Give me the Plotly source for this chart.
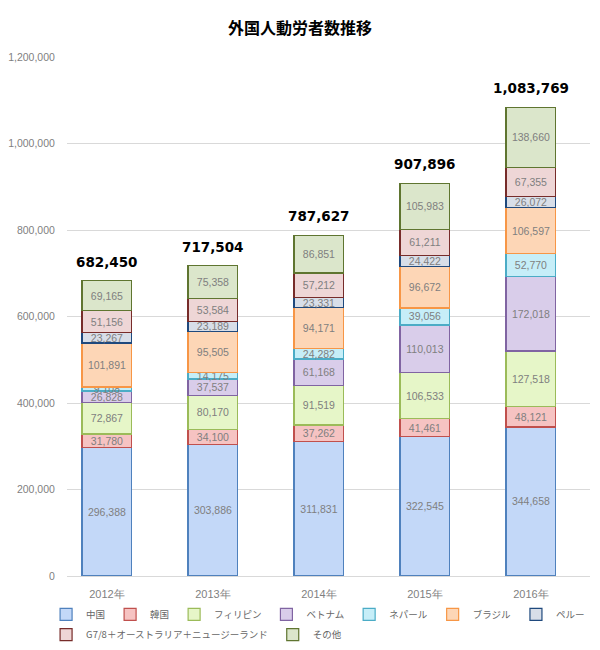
import plotly.graph_objects as go

years = ["2012年", "2013年", "2014年", "2015年", "2016年"]

china = [296388, 303886, 311831, 322545, 344658]
korea = [31780, 34100, 37262, 41461, 48121]
philippines = [72867, 80170, 91519, 106533, 127518]
vietnam = [26828, 37537, 61168, 110013, 172018]
nepal = [9108, 14175, 24282, 39056, 52770]
brazil = [101891, 95505, 94171, 96672, 106597]
peru = [23267, 23189, 23331, 24422, 26072]
g78 = [51156, 53584, 57212, 61211, 67355]
others = [69165, 75358, 86851, 105983, 138660]

# name, values, fill, border, legend row
series = [
    ("中国", china, "#c3d8f8", "#4f81bd", "legend"),
    ("韓国", korea, "#f6c3c2", "#c0504d", "legend"),
    ("フィリピン", philippines, "#e6f6c8", "#9bbb59", "legend"),
    ("ベトナム", vietnam, "#d9cdea", "#8064a2", "legend"),
    ("ネパール", nepal, "#c6eef8", "#4bacc6", "legend"),
    ("ブラジル", brazil, "#fdd6b6", "#f79646", "legend"),
    ("ペルー", peru, "#d8dee8", "#1f497d", "legend"),
    ("G7/8＋オーストラリア＋ニュージーランド", g78, "#eed6d6", "#772c2a", "legend2"),
    ("その他", others, "#dbe6cb", "#5f7530", "legend2"),
]

totals = [sum(v) for v in zip(*[s[1] for s in series])]

fig = go.Figure()
for name, vals, fill, line, leg in series:
    fig.add_trace(go.Bar(
        x=years, y=vals, name=name, legend=leg,
        marker=dict(color=fill, line=dict(color=line, width=1.2)),
        text=[f"{v:,}" for v in vals],
        textposition="inside",
        insidetextanchor="middle",
        textangle=0,
        constraintext="none",
        textfont=dict(color="#7f7f7f", size=10.5, family="Liberation Sans"),
        width=0.47,
        hoverinfo="skip",
    ))

for yr, t in zip(years, totals):
    fig.add_annotation(
        x=yr, y=t, text=f"<b>{t:,}</b>",
        showarrow=False, yanchor="bottom", yshift=9,
        font=dict(color="#000000", size=13.5, family="DejaVu Sans"),
    )

legend_style = dict(
    orientation="h", xanchor="left", yanchor="top",
    traceorder="normal",
    font=dict(size=9.5, color="#666666", family="Noto Sans CJK JP"),
    itemwidth=30, bgcolor="rgba(0,0,0,0)",
)

# page body has an 8px margin, so the figure is 592x642
fig.update_layout(
    width=592, height=642,
    barmode="stack",
    paper_bgcolor="white",
    plot_bgcolor="white",
    margin=dict(l=59, r=10, t=49, b=74, autoexpand=False),
    title=dict(
        text="<b>外国人動労者数推移</b>",
        x=292 / 592, xanchor="center", xref="container",
        y=1 - 20 / 642, yanchor="middle", yref="container",
        font=dict(size=16, color="#000000", family="Noto Sans CJK JP"),
    ),
    font=dict(family="Liberation Sans", color="#7f7f7f", size=11),
    xaxis=dict(
        range=[-0.377, 4.557],
        showline=True, linecolor="#d9d9d9",
        ticks="outside", ticklen=8, tickcolor="rgba(0,0,0,0)",
        showgrid=False, automargin=False,
        tickfont=dict(size=11, color="#7f7f7f", family="Liberation Sans"),
    ),
    yaxis=dict(
        range=[0, 1200000], dtick=200000,
        tickformat=",", showgrid=True, gridcolor="#d9d9d9",
        zeroline=False, ticks="outside", ticklen=9, tickcolor="rgba(0,0,0,0)",
        automargin=False,
        tickfont=dict(size=10.5, color="#7f7f7f", family="Liberation Sans"),
    ),
    legend=dict(x=-0.040, y=-0.046, **legend_style),
    legend2=dict(x=-0.040, y=-0.085, **legend_style),
    showlegend=True,
)

fig.write_html("out.html")
